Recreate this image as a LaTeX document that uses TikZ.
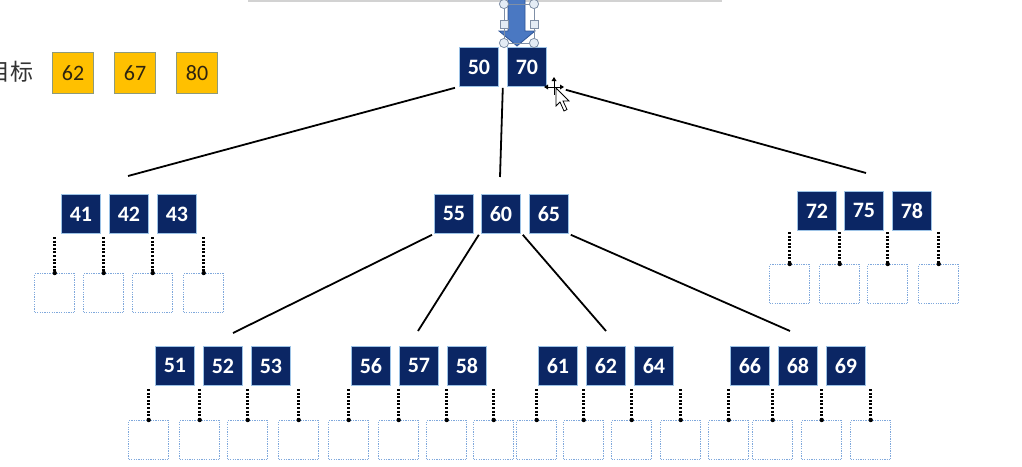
\documentclass[tikz,border=0pt]{standalone}
\usepackage{fontspec}
\newfontfamily\carlito{Carlito}
\newfontfamily\cjk{Noto Sans CJK SC}
\definecolor{navy}{HTML}{0B2664}
\definecolor{keyborder}{HTML}{9DC3E6}
\definecolor{emptyborder}{HTML}{7FA8DC}
\definecolor{goldfill}{HTML}{FFC000}
\definecolor{goldborder}{HTML}{8E9A7A}
\definecolor{goldtext}{HTML}{2E2410}
\definecolor{arrowblue}{HTML}{4A78C2}
\definecolor{arrowedge}{HTML}{2F5597}
\definecolor{handlefill}{HTML}{E4ECF5}
\definecolor{handleedge}{HTML}{7F8FA6}
\tikzset{
  keybox/.style={draw=keyborder, line width=0.8pt, fill=navy, minimum width=39pt, minimum height=39pt,
    inner sep=0pt, anchor=north west, text=white, font=\carlito\bfseries\fontsize{22}{22}\selectfont},
  emptybox/.style={draw=emptyborder, dash pattern=on 1.3pt off 1.1pt, line width=1.4pt, minimum width=40pt, minimum height=39pt,
    inner sep=0pt, anchor=north west},
  goldbox/.style={draw=goldborder, line width=1pt, fill=goldfill, minimum width=41pt, minimum height=41pt,
    inner sep=0pt, anchor=north west, text=goldtext, font=\carlito\fontsize{22}{22}\selectfont},
  ptrline/.style={black, dash pattern=on 2pt off 1.6pt, line width=2.6pt},
  treeline/.style={black, line width=1.8pt},
  handle/.style={draw=handleedge, fill=handlefill, line width=0.8pt},
}
\begin{document}
\begin{tikzpicture}[x=1pt,y=-1pt]
\useasboundingbox (0,0) rectangle (1022,466);
% top strip
\fill[gray!35] (248,-6) rectangle (722,1.8);
% target label and boxes
\node[anchor=east, inner sep=0pt, text=black!80, font=\cjk\fontsize{23}{23}\selectfont] (lbl) at (34,72) {目标};
\node[goldbox] (g62) at (52,52) {62};
\node[goldbox] (g67) at (114,52) {67};
\node[goldbox] (g80) at (176,52) {80};
% root
\node[keybox] (k50) at (459,47) {50};
\node[keybox] (k70) at (507,47) {70};
% arrow with selection handles
\fill[arrowblue, draw=arrowedge, line width=0.8pt] (508,-2) -- (525,-2) -- (525,31) -- (535,31) -- (517,46) -- (499,31) -- (508,31) -- cycle;
\draw[handleedge, line width=0.7pt] (504,4) rectangle (534,43);
\foreach \p in {(504,4),(534,4),(504,43),(534,43)} \filldraw[handle] \p circle (4.6);
\foreach \p in {(504,24),(534,24)} \filldraw[handle] \p ++(-4,-4) rectangle ++(8,8);
% second level
\node[keybox] (k41) at (61,194) {41};
\node[keybox] (k42) at (109,194) {42};
\node[keybox] (k43) at (157,194) {43};
\node[keybox] (k55) at (434,194) {55};
\node[keybox] (k60) at (481,194) {60};
\node[keybox] (k65) at (529,194) {65};
\node[keybox] (k72) at (797,191) {72};
\node[keybox] (k75) at (844,191) {75};
\node[keybox] (k78) at (892,191) {78};
% third level
\node[keybox] (k51) at (155,346) {51};
\node[keybox] (k52) at (203,346) {52};
\node[keybox] (k53) at (251,346) {53};
\node[keybox] (k56) at (351,346) {56};
\node[keybox] (k57) at (399,346) {57};
\node[keybox] (k58) at (447,346) {58};
\node[keybox] (k61) at (538,346) {61};
\node[keybox] (k62) at (586,346) {62};
\node[keybox] (k64) at (634,346) {64};
\node[keybox] (k66) at (730,346) {66};
\node[keybox] (k68) at (778,346) {68};
\node[keybox] (k69) at (826,346) {69};
% tree connectors
\coordinate (cL) at (128,176);
\coordinate (cM) at (500,177);
\coordinate (cR) at (866,173);
\coordinate (cA) at (233,333);
\coordinate (cB) at (418,331);
\coordinate (cC) at (606,331);
\coordinate (cD) at (790,331);
\draw[treeline] ([xshift=-4pt,yshift=-1pt]k50.south west) -- (cL);
\draw[treeline] ([xshift=4pt,yshift=-1pt]k50.south east) -- (cM);
\draw[treeline] ([xshift=19pt,yshift=-3pt]k70.south east) -- (cR);
\draw[treeline] ([xshift=-2pt,yshift=-1pt]k55.south west) -- (cA);
\draw[treeline] ([xshift=5pt,yshift=-1pt]k55.south east) -- (cB);
\draw[treeline] ([xshift=2pt,yshift=-1pt]k60.south east) -- (cC);
\draw[treeline] ([xshift=2pt,yshift=-1pt]k65.south east) -- (cD);
% empty child slots with dotted pointers
\foreach \nm/\x/\y/\top in {
  eL1/34/273/237, eL2/83/273/237, eL3/132/273/237, eL4/183/273/237,
  eR1/769/264/232, eR2/819/264/232, eR3/867/264/232, eR4/918/264/232,
  eA1/128/420/389, eA2/179/420/389, eA3/227/420/389, eA4/278/420/389,
  eB1/328/420/389, eB2/378/420/389, eB3/426/420/389, eB4/473/420/389,
  eC1/516/420/389, eC2/563/420/389, eC3/611/420/389, eC4/660/420/389,
  eD1/708/420/389, eD2/752/420/389, eD3/801/420/389, eD4/850/420/389}{
  \node[emptybox] (\nm) at (\x,\y) {};
  \coordinate (\nm top) at ([yshift=\y pt-\top pt]\nm.north);
  \draw[ptrline] (\nm top) -- (\nm.north);
  \fill[black] (\nm.north) circle (2.2);
}
% cursor
\draw[black, line width=0.8pt] (546,87) -- (562,87) (554,79) -- (554,95);
\fill[black] (554,77) -- (551.5,81) -- (556.5,81) -- cycle;
\fill[black] (544,87) -- (548,84.5) -- (548,89.5) -- cycle;
\fill[black] (564,87) -- (560,84.5) -- (560,89.5) -- cycle;
\filldraw[fill=white, draw=black, line width=0.8pt] (556,88) -- (556,106) -- (560,102) -- (564,111) -- (567,109.5) -- (563,101) -- (569,101) -- cycle;
\end{tikzpicture}
\end{document}
